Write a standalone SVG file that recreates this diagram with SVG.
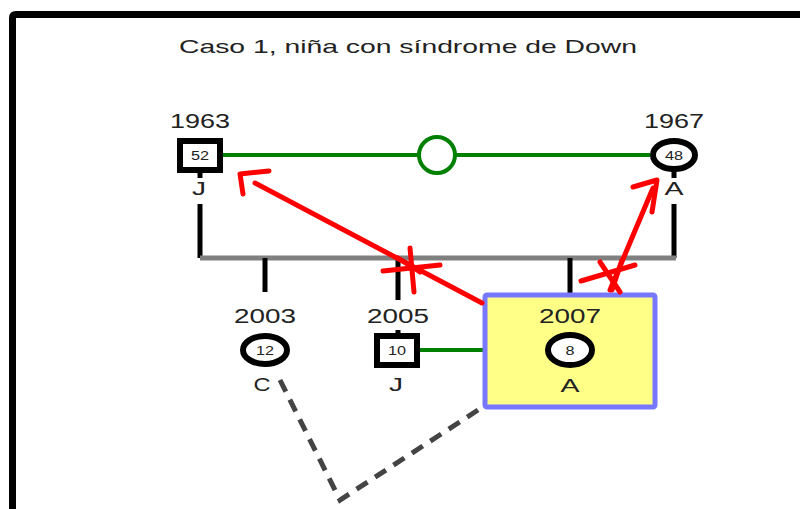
<svg xmlns="http://www.w3.org/2000/svg" width="800" height="509" viewBox="0 0 800 509">
<style>
text{font-family:"Liberation Sans",Arial,sans-serif;fill:#222;text-anchor:middle}
.yr{font-size:20px}
.lb{font-size:19px}
.age{font-size:12px}
.sq{fill:#fff;stroke:#000;stroke-width:6}
.ci{fill:#fff;stroke:#000;stroke-width:6}
.blk{stroke:#000;stroke-width:5;fill:none}
.grn{stroke:#008000;stroke-width:4;fill:none}
.red{stroke:#ff0000;stroke-width:5;fill:none;stroke-linecap:round;stroke-linejoin:round}
.dash{stroke:#444;stroke-width:5;fill:none;stroke-dasharray:13 9}
</style>
<rect width="800" height="509" fill="#fff"/>
<path d="M12.5 520 V18 Q12.5 14.5 16 14.5 H810" fill="none" stroke="#000" stroke-width="7"/>
<text x="408" y="53" style="font-size:19px" textLength="458" lengthAdjust="spacingAndGlyphs">Caso 1, niña con síndrome de Down</text>
<g id="connectors">
<line class="grn" x1="222" y1="155" x2="650" y2="155"/>
<circle cx="437" cy="155" r="18" fill="#fff" stroke="#008000" stroke-width="4"/>
<line class="blk" x1="200" y1="172" x2="200" y2="178"/>
<line class="blk" x1="674" y1="170" x2="674" y2="178"/>
<line class="blk" x1="200" y1="204" x2="200" y2="258"/>
<line class="blk" x1="674" y1="204" x2="674" y2="258"/>
<line x1="200" y1="258" x2="676" y2="258" stroke="#808080" stroke-width="5"/>
<line class="blk" x1="265" y1="258" x2="265" y2="292"/>
<line class="blk" x1="398" y1="258" x2="398" y2="300"/>
<line class="blk" x1="570" y1="258" x2="570" y2="295"/>
<line class="blk" x1="398" y1="330" x2="398" y2="336"/>
<line class="grn" x1="420" y1="350" x2="486" y2="350"/>
<polyline class="dash" points="280,380 340,500 478,410"/>
</g>
<g id="father">
<text class="yr" x="200" y="128" textLength="60" lengthAdjust="spacingAndGlyphs">1963</text>
<rect class="sq" x="180" y="141" width="40" height="29"/>
<text class="age" x="200" y="160" textLength="18" lengthAdjust="spacingAndGlyphs">52</text>
<text class="lb" x="199" y="195" textLength="14" lengthAdjust="spacingAndGlyphs">J</text>
</g>
<g id="mother">
<text class="yr" x="674" y="128" textLength="60" lengthAdjust="spacingAndGlyphs">1967</text>
<ellipse class="ci" cx="674" cy="155" rx="21" ry="14"/>
<text class="age" x="674" y="160" textLength="18" lengthAdjust="spacingAndGlyphs">48</text>
<text class="lb" x="674" y="195" textLength="19" lengthAdjust="spacingAndGlyphs">A</text>
</g>
<g id="child2003">
<text class="yr" x="265" y="323" textLength="62" lengthAdjust="spacingAndGlyphs">2003</text>
<ellipse class="ci" cx="265" cy="350" rx="22" ry="14"/>
<text class="age" x="265" y="355" textLength="18" lengthAdjust="spacingAndGlyphs">12</text>
<text class="lb" x="262" y="391" textLength="17" lengthAdjust="spacingAndGlyphs">C</text>
</g>
<g id="child2005">
<text class="yr" x="398" y="323" textLength="62" lengthAdjust="spacingAndGlyphs">2005</text>
<rect class="sq" x="377" y="336" width="40" height="29"/>
<text class="age" x="397" y="355" textLength="18" lengthAdjust="spacingAndGlyphs">10</text>
<text class="lb" x="396" y="391" textLength="14" lengthAdjust="spacingAndGlyphs">J</text>
</g>
<g id="child2007">
<rect x="485" y="295" width="170" height="112" rx="2" fill="#ffff88" stroke="#7777ff" stroke-width="5"/>
<text class="yr" x="570" y="323" textLength="62" lengthAdjust="spacingAndGlyphs">2007</text>
<ellipse class="ci" cx="570" cy="350" rx="22" ry="15"/>
<text class="age" x="570" y="355" textLength="9" lengthAdjust="spacingAndGlyphs">8</text>
<text class="lb" x="570" y="392" textLength="19" lengthAdjust="spacingAndGlyphs">A</text>
</g>
<g id="arrows">
<line class="red" x1="482" y1="303" x2="255" y2="183"/>
<polyline class="red" points="269,171 240,174 243,194"/>
<line class="red" x1="610" y1="290" x2="653" y2="188"/>
<polyline class="red" points="633,187 657,180 652,212"/>
<line class="red" x1="410" y1="248" x2="414" y2="292"/>
<line class="red" x1="383" y1="271" x2="440" y2="265"/>
<line class="red" x1="398" y1="258" x2="420" y2="272"/>
<line class="red" x1="600" y1="262" x2="620" y2="292"/>
<line class="red" x1="581" y1="281" x2="635" y2="265"/>
<line class="red" x1="622" y1="260" x2="612" y2="290"/>
</g>
</svg>
